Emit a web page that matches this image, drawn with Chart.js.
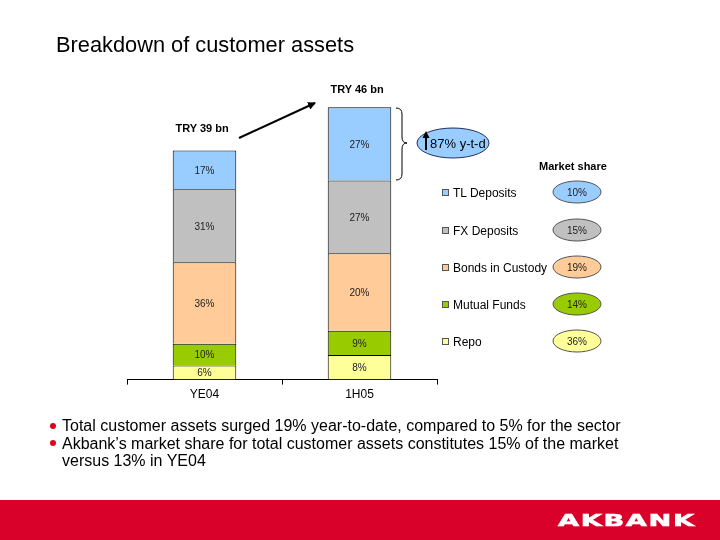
<!DOCTYPE html>
<html>
<head>
<meta charset="utf-8">
<script src="https://cdn.jsdelivr.net/npm/chart.js@4"></script>
<style>
  html, body { margin:0; padding:0; background:#fff; }
  #wrap { position:relative; width:720px; height:540px; overflow:hidden; font-family:"Liberation Sans", Arial, sans-serif; color:#000; }
  #chart { position:absolute; left:0; top:0; }
  .t { position:absolute; white-space:nowrap; line-height:1; }
  #title { left:56px; top:34px; font-size:21.8px; }
  .tot { font-weight:bold; font-size:11px; }
  #mshead { left:539px; top:161px; font-weight:bold; font-size:11px; }
  .leg { position:absolute; left:442px; font-size:12px; white-space:nowrap; line-height:14px; }
  .leg i { display:inline-block; width:5px; height:5px; border:1px solid #555; margin-right:4px; vertical-align:1px; }
  .bul { position:absolute; left:62px; font-size:16px; line-height:17.5px; width:650px; }
  .dot { position:absolute; left:50px; width:6px; height:6px; border-radius:50%; background:#e0001b; }
  #footer { position:absolute; left:0; top:500px; width:720px; height:40px; background:#d9002a; }
  #logo { position:absolute; left:558px; top:513px; color:#fff; font-family:"DejaVu Sans", sans-serif; font-weight:bold; font-size:16.5px; letter-spacing:1px; line-height:1; transform-origin:0 0; -webkit-text-stroke:0.6px #fff; }
  svg { position:absolute; left:0; top:0; }
</style>
</head>
<body>
<div id="wrap">
  <canvas id="chart" width="720" height="540"></canvas>
  <svg width="720" height="540">
    <defs>
      <marker id="ah" markerWidth="8" markerHeight="8" refX="7" refY="4" orient="auto" markerUnits="userSpaceOnUse">
        <path d="M0,0 L8,4 L0,8 z" fill="#000"/>
      </marker>
    </defs>
    <line x1="239" y1="138" x2="315" y2="103" stroke="#000" stroke-width="2" marker-end="url(#ah)"/>
    <path d="M396,108 Q402,108 402,114 L402,137 Q402,143 407,143 Q402,143 402,149 L402,174 Q402,180 396,180" fill="none" stroke="#000" stroke-width="1"/>
    <ellipse cx="453" cy="143" rx="36" ry="15" fill="#99ccff" stroke="#1f2f5f" stroke-width="1"/>
    <line x1="426" y1="150" x2="426" y2="136" stroke="#000" stroke-width="2"/>
    <path d="M422.5,138 L426,131 L429.5,138 z" fill="#000"/>
    <g id="ovals"></g>
  </svg>
  <div class="t" id="title">Breakdown of customer assets</div>
  <div class="t" id="ytd" style="left:430px;top:137px;font-size:13px;">87% y-t-d</div>
  <div class="t" id="mshead">Market share</div>
  <div id="legend"></div>
  <div id="totals"></div>
  <div class="dot" style="top:423px"></div>
  <div class="dot" style="top:440px"></div>
  <div class="bul" style="top:417px">Total customer assets surged 19% year-to-date, compared to 5% for the sector<br>Akbank’s market share for total customer assets constitutes 15% of the market<br>versus 13% in YE04</div>
  <div id="footer"></div>
  <div id="logo">AKBANK</div>
</div>
<script>
// ---- data ----
const categories = ['YE04', '1H05'];
const seriesNames = ['TL Deposits', 'FX Deposits', 'Bonds in Custody', 'Mutual Funds', 'Repo'];
// values in TRY bn
const tlDeposits   = [6.6, 12.5];
const fxDeposits   = [12.4, 12.4];
const bondsCustody = [13.9, 13.2];
const mutualFunds  = [3.7, 4.1];
const repo         = [2.4, 4.2];
// segment labels as printed
const tlLabels    = ['17%', '27%'];
const fxLabels    = ['31%', '27%'];
const bondsLabels = ['36%', '20%'];
const mfLabels    = ['10%', '9%'];
const repoLabels  = ['6%', '8%'];
const totalLabels = ['TRY 39 bn', 'TRY 46 bn'];
const marketShare = ['10%', '15%', '19%', '14%', '36%'];
const ytdGrowth = '87% y-t-d';

// ---- styles ----
const colors = ['#99ccff', '#c0c0c0', '#ffcc99', '#99cc00', '#ffff99'];

const seriesValues = [tlDeposits, fxDeposits, bondsCustody, mutualFunds, repo];
const seriesLabels = [tlLabels, fxLabels, bondsLabels, mfLabels, repoLabels];

// datasets bottom-to-top: Repo first
const datasets = [];
for (let i = seriesNames.length - 1; i >= 0; i--) {
  datasets.push({
    label: seriesNames[i],
    data: seriesValues[i],
    segLabels: seriesLabels[i],
    backgroundColor: colors[i],
    borderColor: '#000',
    borderWidth: 1,
    barPercentage: 0.82,
    categoryPercentage: 0.5
  });
}

const segLabelPlugin = {
  id: 'segLabels',
  afterDatasetsDraw(chart) {
    const ctx = chart.ctx;
    ctx.save();
    ctx.font = '10px "Liberation Sans", Arial, sans-serif';
    ctx.fillStyle = '#222';
    ctx.textAlign = 'center';
    ctx.textBaseline = 'middle';
    chart.data.datasets.forEach((ds, di) => {
      const meta = chart.getDatasetMeta(di);
      meta.data.forEach((bar, j) => {
        const y = (bar.y + bar.base) / 2;
        ctx.fillText(ds.segLabels[j], bar.x, y + 1);
      });
    });
    ctx.restore();
  }
};

const totalsPlugin = {
  id: 'totalsPos',
  afterRender(chart) {
    const top = chart.getDatasetMeta(chart.data.datasets.length - 1);
    const el = document.getElementById('totals');
    el.innerHTML = '';
    top.data.forEach((bar, j) => {
      const d = document.createElement('div');
      d.className = 't tot';
      d.textContent = totalLabels[j];
      d.style.left = (bar.x - 29) + 'px';
      d.style.top = (j === 0 ? bar.y - 28 : bar.y - 23) + 'px';
      el.appendChild(d);
    });
  }
};

new Chart(document.getElementById('chart'), {
  type: 'bar',
  data: { labels: categories, datasets },
  options: {
    responsive: false,
    animation: false,
    devicePixelRatio: 1,
    layout: { padding: { left: 127, right: 283, top: 86, bottom: 135 } },
    plugins: { legend: { display: false }, tooltip: { enabled: false } },
    scales: {
      x: {
        stacked: true,
        offset: true,
        grid: { offset: true, drawOnChartArea: false, drawTicks: true, tickLength: 5, color: '#000', lineWidth: 1 },
        border: { display: true, color: '#000', width: 1 },
        ticks: { color: '#000', font: { family: '"Liberation Sans", Arial, sans-serif', size: 12 }, padding: 3 }
      },
      y: { stacked: true, display: false, min: 0, max: 50 }
    }
  },
  plugins: [segLabelPlugin, totalsPlugin]
});

// legend + market share ovals
const rowY = [193, 231, 268, 305, 342];
const leg = document.getElementById('legend');
const ov = document.getElementById('ovals');
seriesNames.forEach((n, i) => {
  const d = document.createElement('div');
  d.className = 'leg';
  d.style.top = (rowY[i] - 7) + 'px';
  d.innerHTML = '<i style="background:' + colors[i] + '"></i>' + n;
  leg.appendChild(d);
  const e = document.createElementNS('http://www.w3.org/2000/svg', 'ellipse');
  e.setAttribute('cx', 577); e.setAttribute('cy', rowY[i] - 1);
  e.setAttribute('rx', 24); e.setAttribute('ry', 11);
  e.setAttribute('fill', colors[i]); e.setAttribute('stroke', '#555'); e.setAttribute('stroke-width', 1);
  ov.appendChild(e);
  const t = document.createElementNS('http://www.w3.org/2000/svg', 'text');
  t.setAttribute('x', 577); t.setAttribute('y', rowY[i] + 3);
  t.setAttribute('text-anchor', 'middle');
  t.setAttribute('font-family', 'Liberation Sans, Arial, sans-serif');
  t.setAttribute('font-size', '10');
  t.setAttribute('fill', '#222');
  t.textContent = marketShare[i];
  ov.appendChild(t);
});
document.getElementById('ytd').textContent = ytdGrowth;

// stretch logo to the reference width
const logo = document.getElementById('logo');
const w = logo.getBoundingClientRect().width - 1;
logo.style.transform = 'scaleX(' + (136 / w) + ')';
</script>
</body>
</html>
